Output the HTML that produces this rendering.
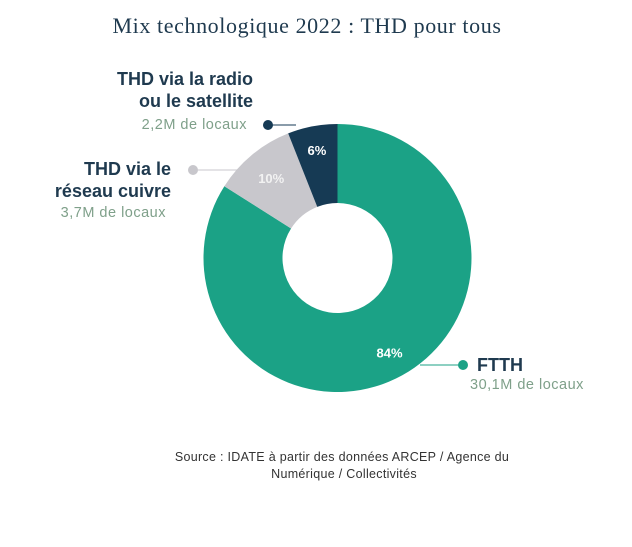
<!DOCTYPE html>
<html><head><meta charset="utf-8"><style>
body{margin:0;background:#fff;width:632px;height:547px;overflow:hidden;font-family:"Liberation Sans",sans-serif}
svg{position:absolute;left:0;top:0}
</style></head><body>
<svg width="632" height="547">
<text x="307" y="33" text-anchor="middle" font-family="Liberation Serif,serif" font-size="22" letter-spacing="0.6" fill="#1f3a4f">Mix technologique 2022 : THD pour tous</text>
<g id="slices"></g>
<g id="labels"></g>
<text x="342" y="461" text-anchor="middle" font-size="12.5" letter-spacing="0.3" fill="#333">Source : IDATE à partir des données ARCEP / Agence du</text>
<text x="344" y="478" text-anchor="middle" font-size="12.5" letter-spacing="0.3" fill="#333">Numérique / Collectivités</text>
</svg>
<script>
const categories=["FTTH","THD via le réseau cuivre","THD via la radio ou le satellite"];
const shares=[84,10,6];
const pctLabels=["84%","10%","6%"];
const colors=["#1ba286","#c8c7cc","#163a54"];
const slicesNames=["slice-ftth","slice-cuivre","slice-radio"];
const cx=337.5,cy=258,R=134,r=55;
const NS="http://www.w3.org/2000/svg";
const g=document.getElementById('slices');
const total=shares.reduce((a,b)=>a+b,0);
function pt(a,rad){return [cx+rad*Math.sin(a),cy-rad*Math.cos(a)];}
let acc=0;
shares.forEach((v,i)=>{
 const a0=acc/total*2*Math.PI;acc+=v;const a1=acc/total*2*Math.PI;
 const big=(a1-a0)>Math.PI?1:0;
 const [x0,y0]=pt(a0,R),[x1,y1]=pt(a1,R),[x2,y2]=pt(a1,r),[x3,y3]=pt(a0,r);
 const p=document.createElementNS(NS,'path');
 p.setAttribute('d',`M${x0},${y0}A${R},${R} 0 ${big} 1 ${x1},${y1}L${x2},${y2}A${r},${r} 0 ${big} 0 ${x3},${y3}Z`);
 p.setAttribute('fill',colors[i]);
 
 
 g.appendChild(p);
 const am=(a0+a1)/2;const rr=i===0?108:(i===1?104:110);
 const [tx,ty]=pt(am,rr);
 const t=document.createElementNS(NS,'text');
 t.setAttribute('x',tx);t.setAttribute('y',ty+5);t.setAttribute('text-anchor','middle');
 t.setAttribute('font-family','Liberation Sans,sans-serif');t.setAttribute('font-weight','bold');t.setAttribute('font-size','13');
 t.setAttribute('fill',i===1?'#f2f2f2':'#fff');
 t.textContent=pctLabels[i];
 
 
 g.appendChild(t);
});
const L=document.getElementById('labels');
L.innerHTML=`
<line x1="269" y1="125" x2="296" y2="125" stroke="#163a54" stroke-width="1"/>
<circle cx="268" cy="125" r="5" fill="#163a54"/>
<text x="253" y="85" text-anchor="end" font-size="18" font-weight="bold" fill="#1f3a4f">THD via la radio</text>
<text x="253" y="107" text-anchor="end" font-size="18" font-weight="bold" fill="#1f3a4f">ou le satellite</text>
<text x="247" y="129" text-anchor="end" font-size="14.5" letter-spacing="0.5" fill="#7fa08a">2,2M de locaux</text>
<line x1="193" y1="170" x2="238" y2="170" stroke="#c8c7cc" stroke-width="1"/>
<circle cx="193" cy="170" r="5" fill="#c8c7cc"/>
<text x="171" y="175" text-anchor="end" font-size="18" font-weight="bold" fill="#1f3a4f">THD via le</text>
<text x="171" y="197" text-anchor="end" font-size="18" font-weight="bold" fill="#1f3a4f">réseau cuivre</text>
<text x="166" y="217" text-anchor="end" font-size="14.5" letter-spacing="0.5" fill="#7fa08a">3,7M de locaux</text>
<line x1="420" y1="365" x2="463" y2="365" stroke="#1ba286" stroke-width="1"/>
<circle cx="463" cy="365" r="5" fill="#1ba286"/>
<text x="477" y="371" font-size="18" font-weight="bold" fill="#1f3a4f">FTTH</text>
<text x="470" y="389" font-size="14.5" letter-spacing="0.5" fill="#7fa08a">30,1M de locaux</text>`;
</script>
</body></html>
